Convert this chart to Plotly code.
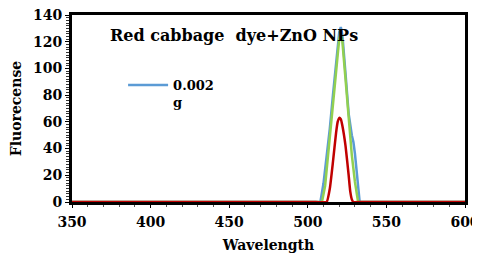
import plotly.graph_objects as go

# wavelength (nm) and fluorescence readings
wl_blue = [350, 505, 508, 510, 512, 514, 516, 518, 520, 521, 522, 524, 526, 528, 529, 530, 532, 533, 535, 600]
blue = [0, 0, 0, 14, 33, 55, 80, 106, 127, 131, 125, 96, 66, 50, 45, 36, 10, 0, 0, 0]

wl_green = [350, 505, 509, 511, 513, 515, 517, 519, 520, 521, 522, 524, 526, 528, 530, 532, 535, 600]
green = [0, 0, 0, 12, 35, 60, 85, 110, 122, 126, 120, 92, 62, 35, 15, 0, 0, 0]

wl_red = [350, 505, 512, 514, 516, 518, 519, 520, 521, 522, 524, 526, 527, 528, 529, 535, 600]
red = [0, 0, 0, 10, 30, 52, 60, 63, 62, 57, 42, 20, 8, 2, 0, 0, 0]

font = "DejaVu Serif"

fig = go.Figure()
fig.add_trace(go.Scatter(x=wl_blue, y=blue, mode="lines", name="<b>0.002<br>g</b>",
                         line=dict(color="#5B9BD5", width=2.5)))
fig.add_trace(go.Scatter(x=wl_green, y=green, mode="lines", showlegend=False,
                         line=dict(color="#92D050", width=2.5)))
fig.add_trace(go.Scatter(x=wl_red, y=red, mode="lines", showlegend=False,
                         line=dict(color="#C00000", width=2.5, shape="spline", smoothing=0.4)))

fig.add_annotation(x=0.092, y=0.893, xref="paper", yref="paper", xanchor="left", yanchor="middle",
                   text="<b>Red cabbage  dye+ZnO NPs</b>", showarrow=False,
                   font=dict(family=font, size=16, color="black"))

fig.update_layout(
    width=472, height=245,
    margin=dict(l=64, r=15, t=7, b=51, autoexpand=False),
    paper_bgcolor="white", plot_bgcolor="white",
    font=dict(family=font, color="black"),
    legend=dict(x=0.13, y=0.706, xanchor="left", yanchor="top", valign="top",
                bgcolor="rgba(0,0,0,0)", font=dict(family=font, size=13),
                itemwidth=40, tracegroupgap=0),
    xaxis=dict(range=[350, 600], dtick=50, showgrid=False, zeroline=False,
               showline=True, linecolor="black", linewidth=3, mirror=True,
               ticks="outside", ticklen=3, tickcolor="black", automargin=False,
               ticklabeloverflow="allow", ticklabelstandoff=2,
               tickprefix="<b>", ticksuffix="</b>",
               minor=dict(dtick=10, ticks="outside", ticklen=2, tickcolor="#555"),
               tickfont=dict(family=font, size=14),
               title=dict(text="<b>Wavelength</b>", font=dict(family=font, size=14), standoff=12)),
    yaxis=dict(range=[0, 140], dtick=20, showgrid=False, zeroline=False,
               showline=True, linecolor="black", linewidth=3, mirror=True,
               ticks="outside", ticklen=4, tickcolor="black", automargin=False,
               ticklabeloverflow="allow",
               tickprefix="<b>", ticksuffix="</b>",
               minor=dict(dtick=2, ticks="outside", ticklen=3, tickcolor="#333"),
               tickfont=dict(family=font, size=14),
               title=dict(text="<b>Fluorecense</b>", font=dict(family=font, size=14), standoff=10)),
)

fig.write_html("out.html")
